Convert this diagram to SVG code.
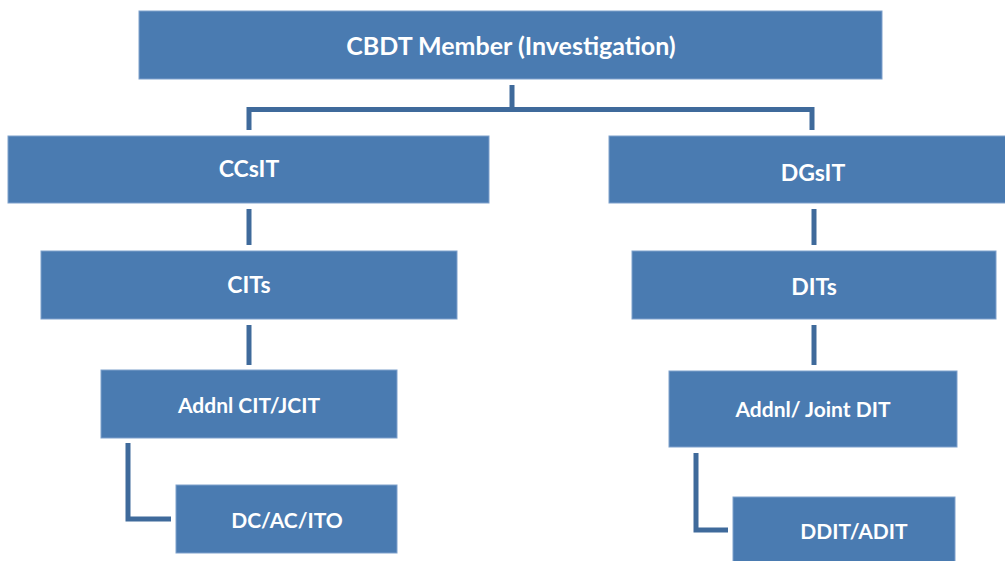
<svg xmlns="http://www.w3.org/2000/svg" width="1005" height="561" viewBox="0 0 1005 561">
<style>
.box{fill:#4a7bb1;stroke:#7ea1cc;stroke-width:1}
.t{fill:#fff;font-family:Lato,"Open Sans","Liberation Sans",sans-serif;font-weight:bold;text-anchor:middle;dominant-baseline:central}
.top{font-size:25px}
.big{font-size:23px}
.small{font-size:21px}
.c{fill:none;stroke:#3f6a9b;stroke-width:5;stroke-linejoin:miter}
</style>
<rect width="1005" height="561" fill="#fff"/>
<g id="connectors">
<path class="c" d="M512 85 V109.5 M249 130 V109.5 H812 V130"/>
<path class="c" d="M249 209 V245"/>
<path class="c" d="M814 209 V245"/>
<path class="c" d="M249 325 V365"/>
<path class="c" d="M814 325 V365"/>
<path class="c" d="M128 443 V519 H171"/>
<path class="c" d="M696 453 V530 H728"/>
</g>
<g id="cbdt"><rect class="box" x="139" y="11" width="743" height="68"/><text class="t top" x="511" y="45">CBDT Member (Investigation)</text></g>
<g id="ccsit"><rect class="box" x="8" y="136" width="481" height="67"/><text class="t big" x="249" y="168">CCsIT</text></g>
<g id="dgsit"><rect class="box" x="609" y="136" width="400" height="67"/><text class="t big" x="813" y="172">DGsIT</text></g>
<g id="cits"><rect class="box" x="41" y="251" width="416" height="68"/><text class="t big" x="249" y="284">CITs</text></g>
<g id="dits"><rect class="box" x="632" y="251" width="364" height="68"/><text class="t big" x="814" y="286">DITs</text></g>
<g id="addnl-cit"><rect class="box" x="101" y="370" width="296" height="68"/><text class="t small" x="249" y="404">Addnl CIT/JCIT</text></g>
<g id="dc-ac-ito"><rect class="box" x="176" y="485" width="221" height="68"/><text class="t small" x="287" y="519">DC/AC/ITO</text></g>
<g id="addnl-dit"><rect class="box" x="669" y="371" width="288" height="76"/><text class="t small" x="813" y="408">Addnl/ Joint DIT</text></g>
<g id="ddit-adit"><rect class="box" x="733" y="497" width="222" height="70"/><text class="t small" x="854" y="530">DDIT/ADIT</text></g>
</svg>
